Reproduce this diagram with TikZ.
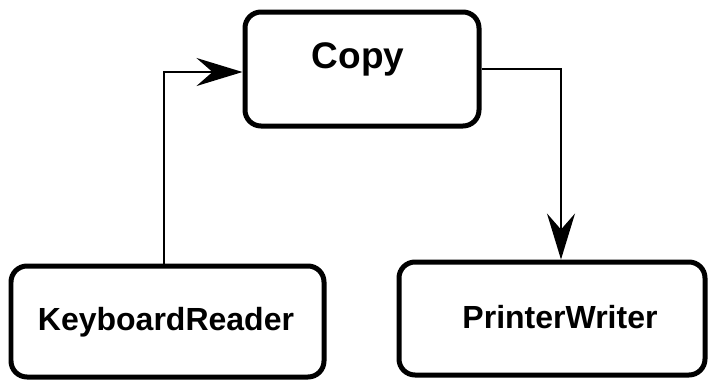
\documentclass[tikz,border=0pt]{standalone}
\usepackage{fontspec}
\setmainfont{Liberation Sans}
\usetikzlibrary{arrows.meta}

\begin{document}
\begin{tikzpicture}[x=0.5pt,y=-0.5pt,
    >={Stealth[length=23pt,width=14pt,inset=8pt]},
    box/.style={draw,line width=2.5pt,rounded corners=8pt,fill=white},
    tag/.style={anchor=base,font=\bfseries\fontsize{16}{18}\selectfont}]
    \useasboundingbox (0,0) rectangle (709,382);
    % the three blocks
    \node [box,minimum width=117pt,minimum height=57pt] (copy) at (362,69) {};
    \node [box,minimum width=156.5pt,minimum height=55.5pt] (kbd) at (167.5,321.5) {};
    \node [box,minimum width=153pt,minimum height=56.5pt] (prn) at (552,318.5) {};

    \node [tag,font=\bfseries\fontsize{18.5}{20}\selectfont] (copylbl) at (358,68) {Copy};
    \node [tag] (kbdlbl) at (166,330) {KeyboardReader};
    \node [tag] (prnlbl) at (560,328) {PrinterWriter};

    % data flow
    \draw [->,line width=1pt] ([xshift=-2pt]kbd.north) |- ([yshift=-1.5pt]copy.west);
    \draw [->,line width=1pt] (copy.east) -| ([xshift=4.5pt]prn.north);
\end{tikzpicture}
\end{document}
